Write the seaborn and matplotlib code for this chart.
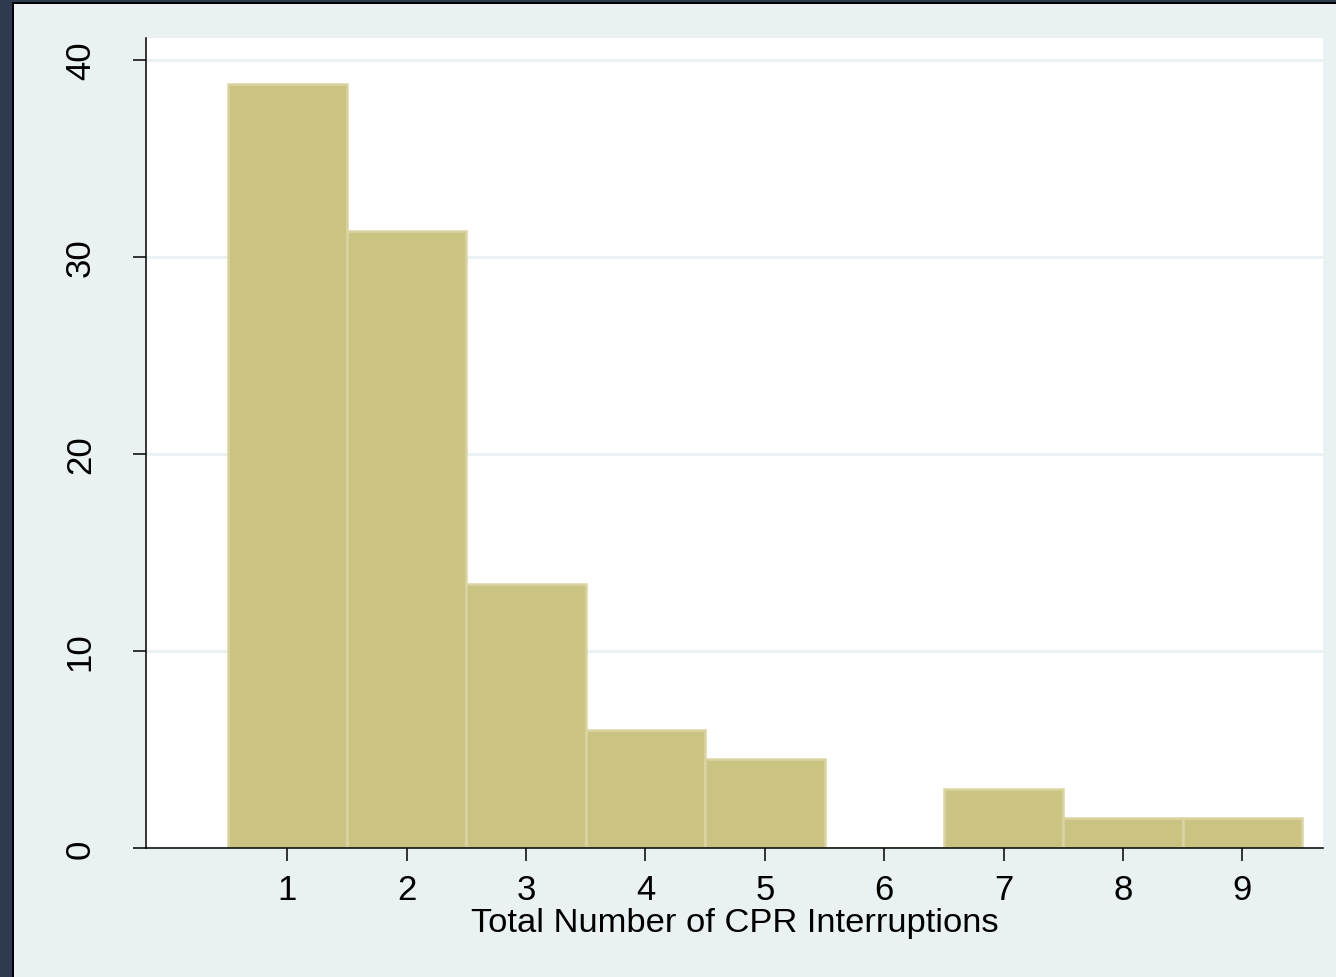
import matplotlib
matplotlib.use("Agg")
import matplotlib.pyplot as plt
from matplotlib.patches import Rectangle
import seaborn as sns
import pandas as pd

# Data
interruptions = [1, 2, 3, 4, 5, 6, 7, 8, 9]
percent = [38.8, 31.3, 13.4, 6.0, 4.5, 0.0, 3.0, 1.5, 1.5]
x_ticks = [1, 2, 3, 4, 5, 6, 7, 8, 9]
y_ticks = [0, 10, 20, 30, 40]
x_label = "Total Number of CPR Interruptions"

df = pd.DataFrame({"interruptions": interruptions, "percent": percent})

sns.set_style("white")
plt.rcParams["font.family"] = ["Liberation Sans", "DejaVu Sans"]

BG = "#EAF1F3"
fig = plt.figure(figsize=(13.36, 9.78), dpi=100, facecolor=BG)
ax = fig.add_axes([146 / 1336, 1 - 849 / 978, (1323 - 146) / 1336, (849 - 39) / 978])
ax.set_facecolor("white")

sns.histplot(data=df, x="interruptions", weights="percent", discrete=True,
             color="#CBC382", edgecolor="#DAD4A2", linewidth=1.8, alpha=1,
             ax=ax, zorder=2)

ax.set_xlim(-0.184, 9.676)
ax.set_ylim(0, 41.12)
ax.set_xticks(x_ticks)
ax.set_yticks(y_ticks)
ax.set_axisbelow(True)
ax.yaxis.grid(True, color=BG, linewidth=2.0)
ax.xaxis.grid(False)

for s in ["top", "right"]:
    ax.spines[s].set_visible(False)
for s in ["left", "bottom"]:
    ax.spines[s].set_color("black")
    ax.spines[s].set_linewidth(1.1)
    ax.spines[s].set_zorder(5)

ax.tick_params(axis="both", which="major", direction="out", length=9.4, width=1.1,
               color="black", labelsize=25, labelcolor="black")
ax.tick_params(axis="x", pad=8.5, bottom=True)
ax.tick_params(axis="y", pad=26, left=True, labelrotation=90)
for lbl in ax.get_yticklabels():
    lbl.set_va("center")

ax.set_xlabel(x_label, fontsize=24.8, labelpad=0.5, color="black")
ax.set_ylabel("")

# Frame decoration (dark border at left and top)
fig.patches.append(Rectangle((0, 0), 12 / 1336, 1, transform=fig.transFigure,
                             facecolor="#2E3A4E", edgecolor="none", zorder=0))
fig.patches.append(Rectangle((0, 1 - 3 / 978), 1, 3 / 978, transform=fig.transFigure,
                             facecolor="#2E3A4E", edgecolor="none", zorder=0))
fig.patches.append(Rectangle((12 / 1336, 0), 1.5 / 1336, 1 - 3 / 978, transform=fig.transFigure,
                             facecolor="black", edgecolor="none", zorder=0))
fig.patches.append(Rectangle((12 / 1336, 1 - 5 / 978), 1 - 12 / 1336, 2 / 978, transform=fig.transFigure,
                             facecolor="black", edgecolor="none", zorder=0))

fig.savefig("out.png", dpi=100, facecolor=BG)
